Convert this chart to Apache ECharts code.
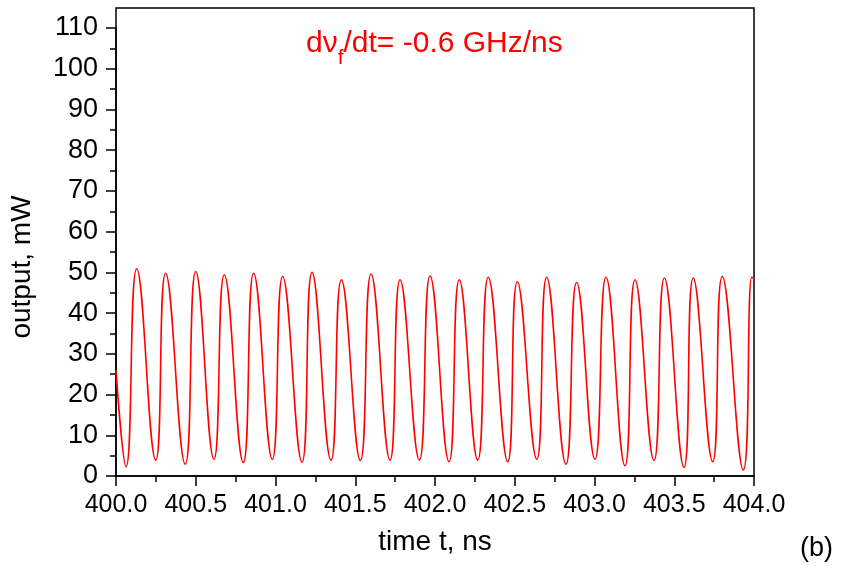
<!DOCTYPE html>
<html>
<head>
<meta charset="utf-8">
<script src="https://cdn.jsdelivr.net/npm/echarts@6/dist/echarts.min.js"></script>
<style>
  html, body { margin: 0; padding: 0; background: #fff; }
  #chart { width: 841px; height: 566px; }
</style>
</head>
<body>
<div id="chart"></div>
<script>
// time (ns) at each extremum
const times = [
  400.000, 400.063, 400.130, 400.249, 400.311, 400.434, 400.500, 400.614, 400.679, 400.798,
  400.863, 400.980, 401.045, 401.166, 401.229, 401.348, 401.413, 401.532, 401.599, 401.718,
  401.781, 401.902, 401.969, 402.088, 402.152, 402.268, 402.334, 402.456, 402.516, 402.638,
  402.700, 402.821, 402.888, 403.003, 403.072, 403.191, 403.254, 403.373, 403.438, 403.561,
  403.619, 403.741, 403.801, 403.933, 403.986, 404.000
];
// output power (mW)
const power = [
  26.0, 2.3, 50.9, 3.9, 49.8, 2.9, 50.2, 4.1, 49.4, 3.3,
  49.8, 4.1, 49.0, 3.4, 50.0, 3.9, 48.2, 3.8, 49.6, 3.9,
  48.2, 3.9, 49.1, 3.5, 48.2, 3.9, 48.8, 3.5, 47.7, 4.1,
  48.8, 2.9, 47.5, 4.1, 48.8, 2.5, 48.2, 3.8, 48.6, 2.1,
  48.6, 3.5, 49.0, 1.5, 48.8, 48.5
];

const xTickLabels = ['400.0', '400.5', '401.0', '401.5', '402.0', '402.5', '403.0', '403.5', '404.0'];

const chart = echarts.init(document.getElementById('chart'));
const font = 'Liberation Sans, Arial, sans-serif';
const axisLine = { show: true, lineStyle: { color: '#000', width: 1.5 } };

chart.setOption({
  backgroundColor: '#fff',
  animation: false,
  grid: [
    { left: 116, right: 87, top: 28, bottom: 90, show: false },
    // outer frame reaches a bit above the 110 tick
    { left: 116, right: 87, top: 8, bottom: 90, show: true, borderColor: '#000', borderWidth: 1.5, backgroundColor: 'transparent' }
  ],
  xAxis: [
    {
      type: 'value', gridIndex: 0, min: 400, max: 404, interval: 0.5,
      axisLine: axisLine,
      axisTick: { show: true, inside: false, length: 10, lineStyle: { color: '#000', width: 1.5 } },
      minorTick: { show: true, splitNumber: 2, length: 6, lineStyle: { color: '#000', width: 1.5 } },
      splitLine: { show: false },
      axisLabel: {
        margin: 17, color: '#000', fontSize: 25, fontFamily: font,
        formatter: v => xTickLabels[Math.round((v - 400) * 2)]
      },
      name: 'time t, ns', nameLocation: 'middle', nameGap: 52,
      nameTextStyle: { color: '#000', fontSize: 28, fontFamily: font }
    },
    { type: 'value', gridIndex: 1, show: false, min: 0, max: 1 }
  ],
  yAxis: [
    {
      type: 'value', gridIndex: 0, min: 0, max: 110, interval: 10,
      axisLine: axisLine,
      axisTick: { show: true, inside: false, length: 10, lineStyle: { color: '#000', width: 1.5 } },
      minorTick: { show: true, splitNumber: 2, length: 6, lineStyle: { color: '#000', width: 1.5 } },
      splitLine: { show: false },
      axisLabel: { margin: 18, color: '#000', fontSize: 27, fontFamily: font },
      name: 'output, mW', nameLocation: 'middle', nameGap: 80,
      nameTextStyle: { color: '#000', fontSize: 28, fontFamily: font, padding: [0, 30, 0, 0] }
    },
    { type: 'value', gridIndex: 1, show: false, min: 0, max: 1 }
  ],
  series: [
    {
      type: 'line',
      xAxisIndex: 0, yAxisIndex: 0,
      data: times.map((t, i) => [t, power[i]]),
      showSymbol: false,
      smooth: 0.5,
      lineStyle: { color: '#ff0000', width: 1.6 },
      clip: true
    }
  ],
  graphic: [
    {
      type: 'text', left: 306, top: 29,
      style: {
        text: '{m|d\u03bd}{s|f}{m|/dt= -0.6 GHz/ns}',
        fill: '#ff0000',
        font: '30px ' + font,
        rich: {
          m: { fontSize: 30, fontFamily: font, fill: '#ff0000', height: 40, verticalAlign: 'top' },
          s: { fontSize: 21, fontFamily: font, fill: '#ff0000', height: 40, verticalAlign: 'bottom', padding: [14, 0, 0, 0] }
        }
      }
    },
    {
      type: 'text', right: 8, bottom: 4,
      style: { text: '(b)', fill: '#000', font: '27px ' + font }
    }
  ]
});
</script>
</body>
</html>
